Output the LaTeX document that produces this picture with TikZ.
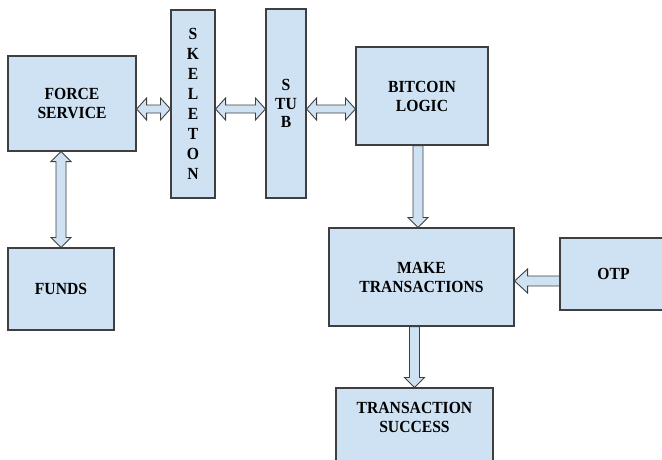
\documentclass[tikz,border=0pt]{standalone}
\usepackage{fontspec}
\setmainfont{Liberation Serif}[BoldFont={Liberation Serif Bold}]
\newfontfamily\boxfont{Liberation Serif Bold}[FakeStretch=0.92]
\usetikzlibrary{calc}
\definecolor{boxfill}{HTML}{CFE2F3}
\definecolor{edgecol}{HTML}{3F3F3F}
\newcommand\hdbl[2]{\draw[blk] (#1) -- ($(#1)+(10,-11)$) -- ($(#1)+(10,-4)$) -- ($(#2)+(-10,-4)$) -- ($(#2)+(-10,-11)$) -- (#2) -- ($(#2)+(-10,11)$) -- ($(#2)+(-10,4)$) -- ($(#1)+(10,4)$) -- ($(#1)+(10,11)$) -- cycle;}
\newcommand\vdbl[2]{\draw[blk] (#1) -- ($(#1)+(10,10)$) -- ($(#1)+(5,10)$) -- ($(#2)+(5,-10)$) -- ($(#2)+(10,-10)$) -- (#2) -- ($(#2)+(-10,-10)$) -- ($(#2)+(-5,-10)$) -- ($(#1)+(-5,10)$) -- ($(#1)+(-10,10)$) -- cycle;}
\newcommand\vsgl[2]{\draw[blk] ($(#1)+(-5,0)$) -- ($(#2)+(-5,-10)$) -- ($(#2)+(-10,-10)$) -- (#2) -- ($(#2)+(10,-10)$) -- ($(#2)+(5,-10)$) -- ($(#1)+(5,0)$) -- cycle;}
\newcommand\hsgl[2]{\draw[blk] ($(#1)+(0,-5)$) -- ($(#2)+(13,-5)$) -- ($(#2)+(13,-12)$) -- (#2) -- ($(#2)+(13,12)$) -- ($(#2)+(13,5)$) -- ($(#1)+(0,5)$) -- cycle;}
\begin{document}
\begin{tikzpicture}[x=1pt,y=-1pt,
  box/.style={draw=edgecol, fill=boxfill, line width=1.1pt, inner sep=0pt, align=center,
    font=\fontsize{17}{19}\boxfont},
  blk/.style={draw=edgecol, fill=boxfill, line width=0.9pt, line join=miter},
  txt/.style={inner sep=0pt, align=center, font=\fontsize{17}{19}\boxfont}]
\useasboundingbox (0,0) rectangle (662,459);
\clip (0,0) rectangle (662,459);
\node[box, minimum width=128, minimum height=95] (fs) at (72,103.5) {FORCE\\SERVICE};
\node[box, minimum width=44, minimum height=188, font=\fontsize{17}{20}\boxfont] (sk) at (193,104) {S\\K\\E\\L\\E\\T\\O\\N};
\node[box, minimum width=40, minimum height=189, font=\fontsize{17}{18.5}\boxfont] (st) at (286,103.5) {S\\TU\\B};
\node[box, minimum width=132, minimum height=98] (bl) at (422,96) {BITCOIN\\LOGIC};
\node[box, minimum width=106, minimum height=82] (fu) at (61,289) {FUNDS};
\node[box, minimum width=185, minimum height=98] (mt) at (421.5,277) {MAKE\\TRANSACTIONS};
\node[box, minimum width=107, minimum height=72] (otp) at (613.5,274) {OTP};
\node[box, minimum width=157, minimum height=87] (ts) at (414.5,431.5) {};
\node[txt] (tstext) at (414.5,417) {TRANSACTION\\SUCCESS};
\coordinate (ylev) at (0,109);
\coordinate (h1) at (fs.east |- ylev);
\coordinate (h2) at (sk.west |- ylev);
\coordinate (h3) at (sk.east |- ylev);
\coordinate (h4) at (st.west |- ylev);
\coordinate (h5) at (st.east |- ylev);
\coordinate (h6) at (bl.west |- ylev);
\coordinate (v1) at (fu.north |- fs.south);
\coordinate (v2) at (fu.north);
\coordinate (d1) at ($(bl.south)+(-4,0)$);
\coordinate (d2) at (d1 |- mt.north);
\coordinate (e1) at (ts.north |- mt.south);
\coordinate (e2) at (ts.north);
\coordinate (olev) at (0,281);
\coordinate (o1) at (otp.west |- olev);
\coordinate (o2) at (mt.east |- olev);
\hdbl{h1}{h2}
\hdbl{h3}{h4}
\hdbl{h5}{h6}
\vdbl{v1}{v2}
\vsgl{d1}{d2}
\vsgl{e1}{e2}
\hsgl{o1}{o2}
\end{tikzpicture}
\end{document}
